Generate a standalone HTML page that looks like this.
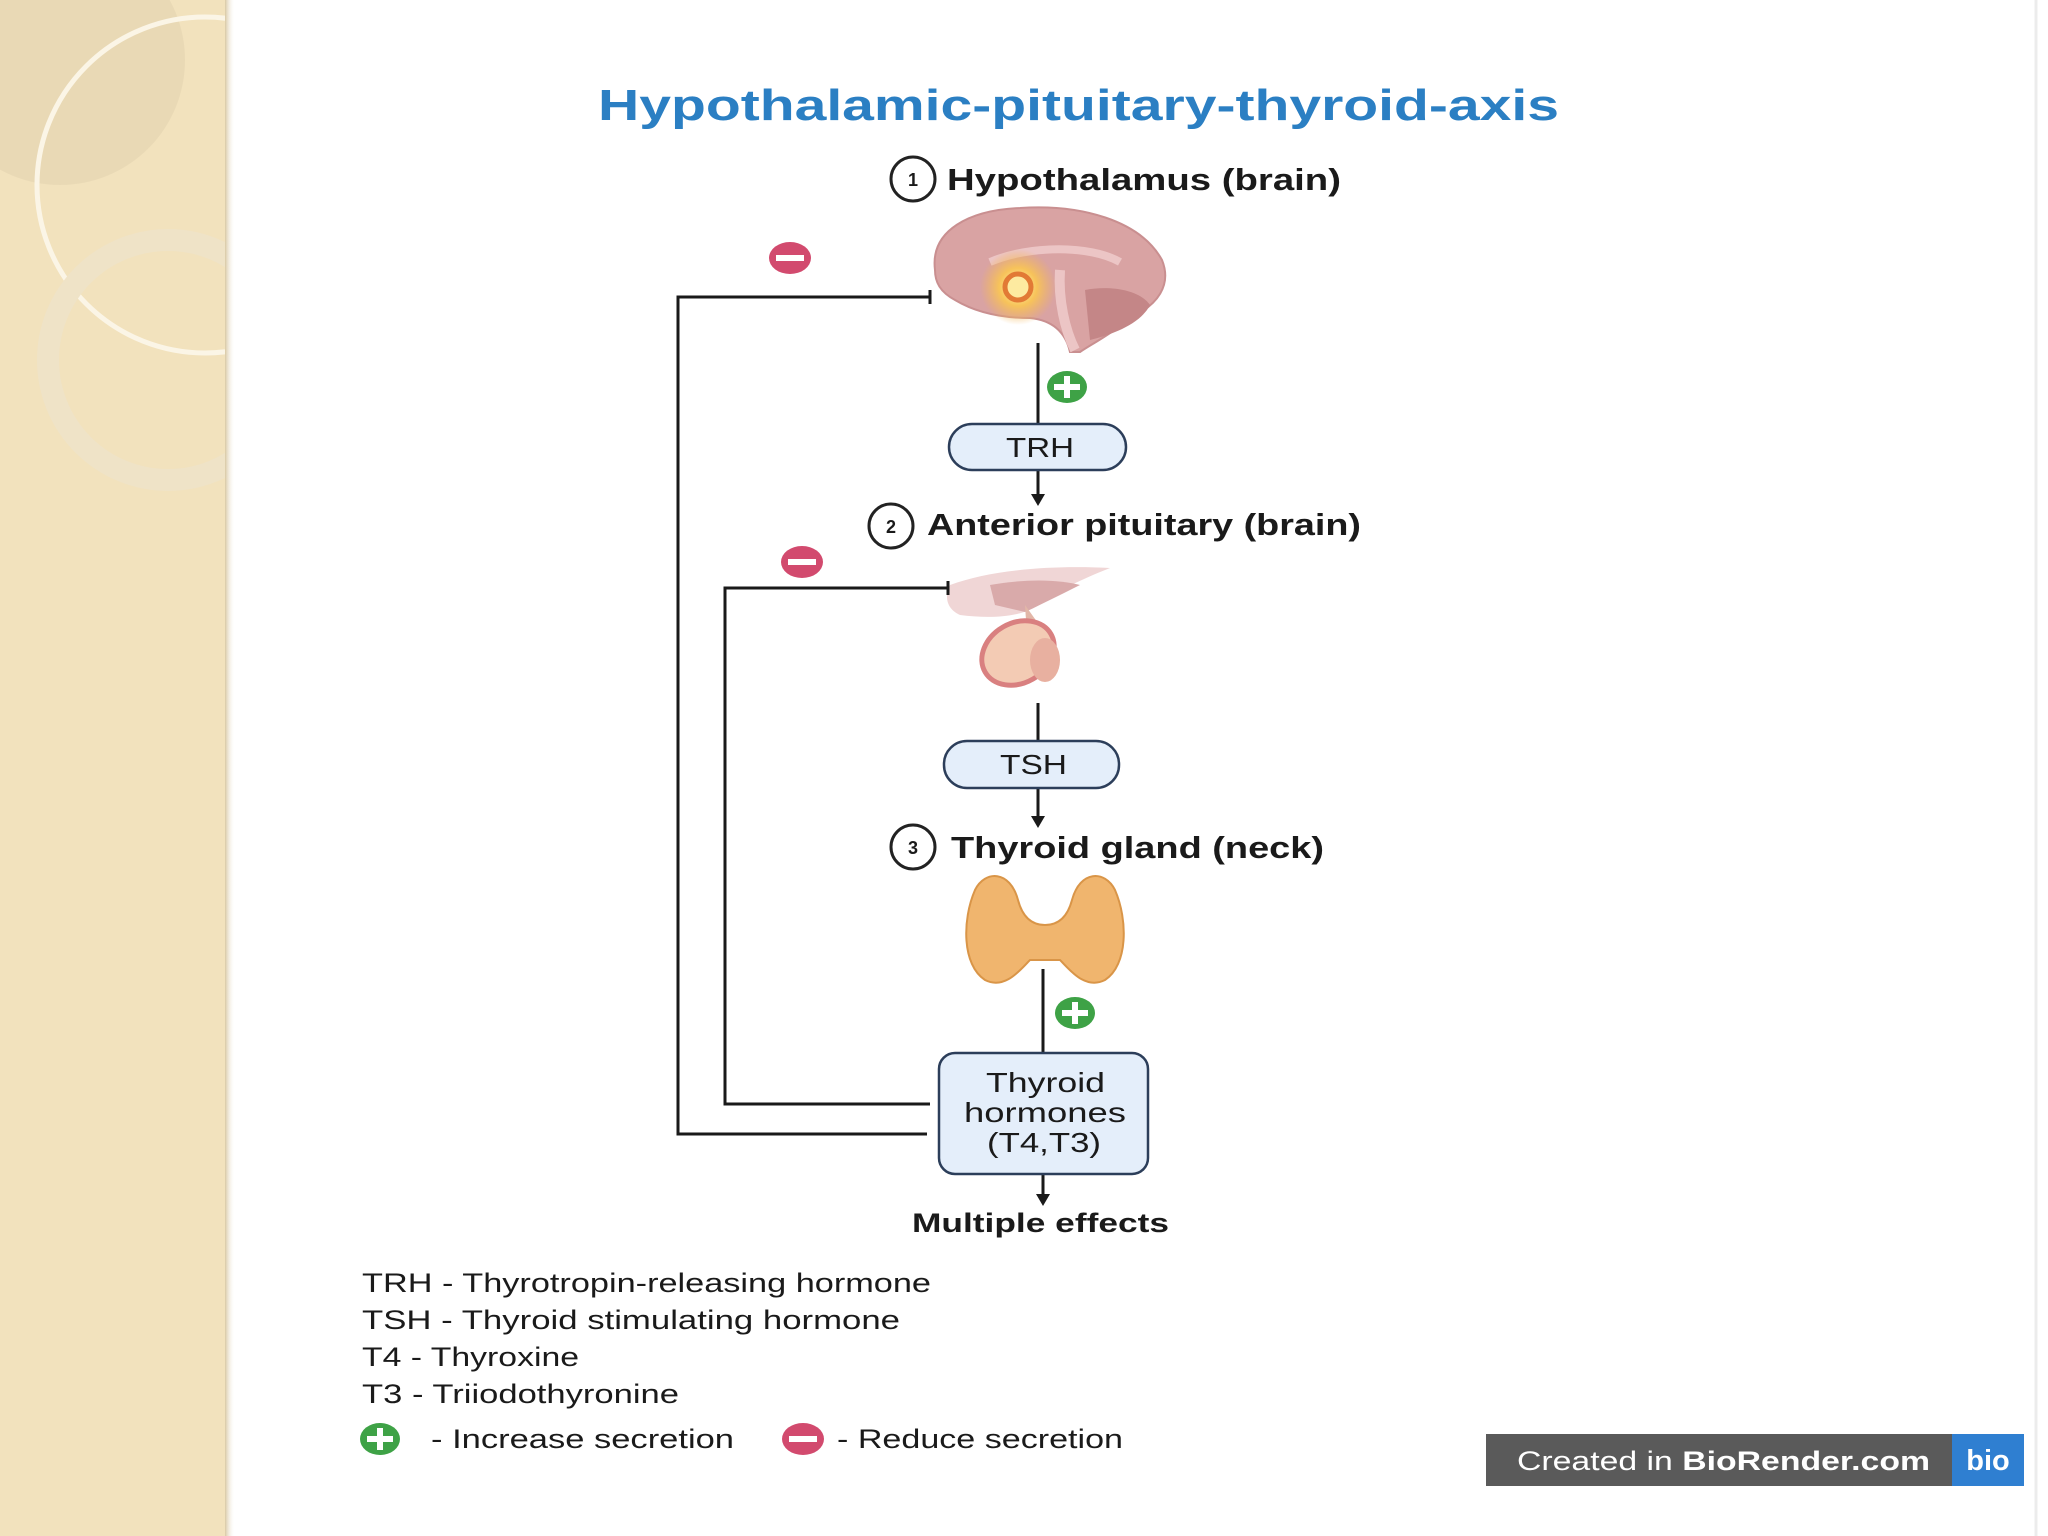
<!DOCTYPE html>
<html><head><meta charset="utf-8"><style>
html,body{margin:0;padding:0;background:#fff}
svg{display:block}
text{font-family:"Liberation Sans","DejaVu Sans",sans-serif}
</style></head><body>
<svg width="2048" height="1536" viewBox="0 0 2048 1536" xmlns="http://www.w3.org/2000/svg">
<defs>
<linearGradient id="sh" x1="0" x2="1"><stop offset="0" stop-color="#d9c9a4"/><stop offset="1" stop-color="#fff" stop-opacity="0"/></linearGradient>
<radialGradient id="glow"><stop offset="0" stop-color="#fff7b0"/><stop offset="0.5" stop-color="#f7c35a"/><stop offset="1" stop-color="#f2b55a" stop-opacity="0"/></radialGradient>
<clipPath id="pc"><rect x="0" y="0" width="225" height="1536"/></clipPath>
</defs>
<rect width="2048" height="1536" fill="#fff"/>
<rect x="0" y="0" width="225" height="1536" fill="#f2e2bd"/>
<g clip-path="url(#pc)">
<circle cx="60" cy="60" r="125" fill="#e6d6b2" opacity="0.7"/>
<circle cx="205" cy="185" r="168" fill="none" stroke="#fbf5e6" stroke-width="5"/>
<circle cx="168" cy="360" r="120" fill="none" stroke="#efe3c7" stroke-width="22"/>
</g>
<rect x="225" y="0" width="10" height="1536" fill="url(#sh)"/>
<line x1="2036" y1="0" x2="2036" y2="1536" stroke="#ececec" stroke-width="3"/>

<text x="598" y="120" textLength="961" lengthAdjust="spacingAndGlyphs" font-size="44" font-weight="bold" fill="#2b7fc3">Hypothalamic-pituitary-thyroid-axis</text>

<g font-size="31" font-weight="bold" fill="#1a1a1a">
<circle cx="913" cy="179" r="22" fill="none" stroke="#222" stroke-width="3"/>
<text x="913" y="186" text-anchor="middle" font-size="18">1</text>
<text x="947" y="190" textLength="394" lengthAdjust="spacingAndGlyphs">Hypothalamus (brain)</text>
<circle cx="891" cy="526" r="22" fill="none" stroke="#222" stroke-width="3"/>
<text x="891" y="533" text-anchor="middle" font-size="18">2</text>
<text x="927" y="535" textLength="434" lengthAdjust="spacingAndGlyphs">Anterior pituitary (brain)</text>
<circle cx="913" cy="847" r="22" fill="none" stroke="#222" stroke-width="3"/>
<text x="913" y="854" text-anchor="middle" font-size="18">3</text>
<text x="951" y="858" textLength="373" lengthAdjust="spacingAndGlyphs">Thyroid gland (neck)</text>
</g>

<path d="M935 270 C930 230 970 210 1020 208 C1080 204 1140 220 1162 260 C1172 285 1158 305 1130 318 C1110 335 1090 345 1080 352 L1070 352 C1065 330 1050 320 1030 318 C1000 318 975 312 955 300 C940 292 935 282 935 270Z" fill="#d9a3a3" stroke="#c98f90" stroke-width="2"/>
<path d="M990 262 C1030 245 1090 245 1120 262" fill="none" stroke="#ecc5c5" stroke-width="8"/>
<path d="M1060 270 C1058 300 1065 330 1075 350" fill="none" stroke="#ecc5c5" stroke-width="10"/>
<path d="M1085 290 C1110 285 1140 290 1150 305 C1140 325 1110 335 1090 340Z" fill="#c48687"/>
<circle cx="1018" cy="287" r="38" fill="url(#glow)"/>
<circle cx="1018" cy="287" r="13" fill="#fdeaa0" stroke="#e27a35" stroke-width="5"/>

<path d="M950 585 C990 570 1050 565 1110 568 C1080 580 1060 590 1045 600 C1030 615 1000 620 960 615 C945 608 945 595 950 585Z" fill="#f0d6d6"/>
<path d="M990 585 C1030 578 1060 580 1080 585 C1060 595 1040 605 1025 612 L995 605Z" fill="#d9aaaa"/>
<path d="M1025 605 L1050 640 L1045 670 L1030 680Z" fill="#e2b7a8"/>
<ellipse cx="1018" cy="653" rx="38" ry="30" fill="#f3cbb4" stroke="#d98080" stroke-width="5" transform="rotate(-30 1018 653)"/>
<ellipse cx="1045" cy="660" rx="15" ry="22" fill="#e8b0a0"/>

<path d="M975 890 C985 870 1010 870 1018 900 C1022 915 1030 925 1045 925 C1060 925 1068 915 1072 900 C1080 870 1105 870 1115 890 C1128 920 1128 965 1105 980 C1085 990 1070 970 1060 960 L1030 960 C1020 970 1005 990 985 980 C962 965 962 920 975 890Z" fill="#f0b56e" stroke="#d99548" stroke-width="2"/>

<g stroke="#1a1a1a" stroke-width="3" fill="none">
<line x1="1038" y1="343" x2="1038" y2="424"/>
<line x1="1038" y1="470" x2="1038" y2="498"/>
<line x1="1038" y1="703" x2="1038" y2="741"/>
<line x1="1038" y1="788" x2="1038" y2="820"/>
<line x1="1043" y1="969" x2="1043" y2="1053"/>
<line x1="1043" y1="1174" x2="1043" y2="1198"/>
<polyline points="927,1134 678,1134 678,297 930,297"/>
<line x1="930" y1="290" x2="930" y2="304"/>
<polyline points="930,1104 725,1104 725,588 948,588"/>
<line x1="948" y1="581" x2="948" y2="595"/>
</g>
<g fill="#1a1a1a">
<path d="M1031 494 L1045 494 L1038 506Z"/>
<path d="M1031 816 L1045 816 L1038 828Z"/>
<path d="M1036 1194 L1050 1194 L1043 1206Z"/>
</g>

<g stroke="#2c3e5a" stroke-width="2.5" fill="#e4eefa">
<rect x="949" y="424" width="177" height="46" rx="23"/>
<rect x="944" y="741" width="175" height="47" rx="23"/>
<rect x="939" y="1053" width="209" height="121" rx="16"/>
</g>
<g font-size="28" fill="#1a1a1a">
<text x="1006" y="457" textLength="68" lengthAdjust="spacingAndGlyphs">TRH</text>
<text x="1000" y="774" textLength="67" lengthAdjust="spacingAndGlyphs">TSH</text>
<text x="986" y="1092" textLength="119" lengthAdjust="spacingAndGlyphs">Thyroid</text>
<text x="964" y="1122" textLength="162" lengthAdjust="spacingAndGlyphs">hormones</text>
<text x="987" y="1152" textLength="114" lengthAdjust="spacingAndGlyphs">(T4,T3)</text>
</g>
<text x="912" y="1232" textLength="257" lengthAdjust="spacingAndGlyphs" font-size="27" font-weight="bold" fill="#1a1a1a">Multiple effects</text>

<g>
<ellipse cx="1067" cy="387" rx="20" ry="16" fill="#3ea246"/><rect x="1054" y="384" width="26" height="6" fill="#fff"/><rect x="1064" y="376" width="6" height="22" fill="#fff"/>
<ellipse cx="1075" cy="1013" rx="20" ry="16" fill="#3ea246"/><rect x="1062" y="1010" width="26" height="6" fill="#fff"/><rect x="1072" y="1002" width="6" height="22" fill="#fff"/>
<ellipse cx="380" cy="1439" rx="20" ry="16" fill="#3ea246"/><rect x="367" y="1436" width="26" height="6" fill="#fff"/><rect x="377" y="1428" width="6" height="22" fill="#fff"/>
<ellipse cx="790" cy="258" rx="21" ry="16" fill="#d24a6e"/><rect x="776" y="255" width="28" height="6" fill="#fff"/>
<ellipse cx="802" cy="562" rx="21" ry="16" fill="#d24a6e"/><rect x="788" y="559" width="28" height="6" fill="#fff"/>
<ellipse cx="803" cy="1439" rx="21" ry="16" fill="#d24a6e"/><rect x="789" y="1436" width="28" height="6" fill="#fff"/>
</g>

<g font-size="27" fill="#1a1a1a" lengthAdjust="spacingAndGlyphs">
<text x="362" y="1292" textLength="569" lengthAdjust="spacingAndGlyphs">TRH - Thyrotropin-releasing hormone</text>
<text x="362" y="1329" textLength="538" lengthAdjust="spacingAndGlyphs">TSH - Thyroid stimulating hormone</text>
<text x="362" y="1366" textLength="217" lengthAdjust="spacingAndGlyphs">T4 - Thyroxine</text>
<text x="362" y="1403" textLength="317" lengthAdjust="spacingAndGlyphs">T3 - Triiodothyronine</text>
<text x="431" y="1448" textLength="303" lengthAdjust="spacingAndGlyphs">- Increase secretion</text>
<text x="837" y="1448" textLength="286" lengthAdjust="spacingAndGlyphs">- Reduce secretion</text>
</g>

<rect x="1486" y="1434" width="466" height="52" fill="#5a5a5a"/>
<rect x="1952" y="1434" width="72" height="52" fill="#2f7fd1"/>
<text x="1517" y="1470" font-size="27" fill="#fff" textLength="413" lengthAdjust="spacingAndGlyphs">Created in <tspan font-weight="bold">BioRender.com</tspan></text>
<text x="1988" y="1470" text-anchor="middle" font-size="29" font-weight="bold" fill="#fff">bio</text>
</svg>
</body></html>
